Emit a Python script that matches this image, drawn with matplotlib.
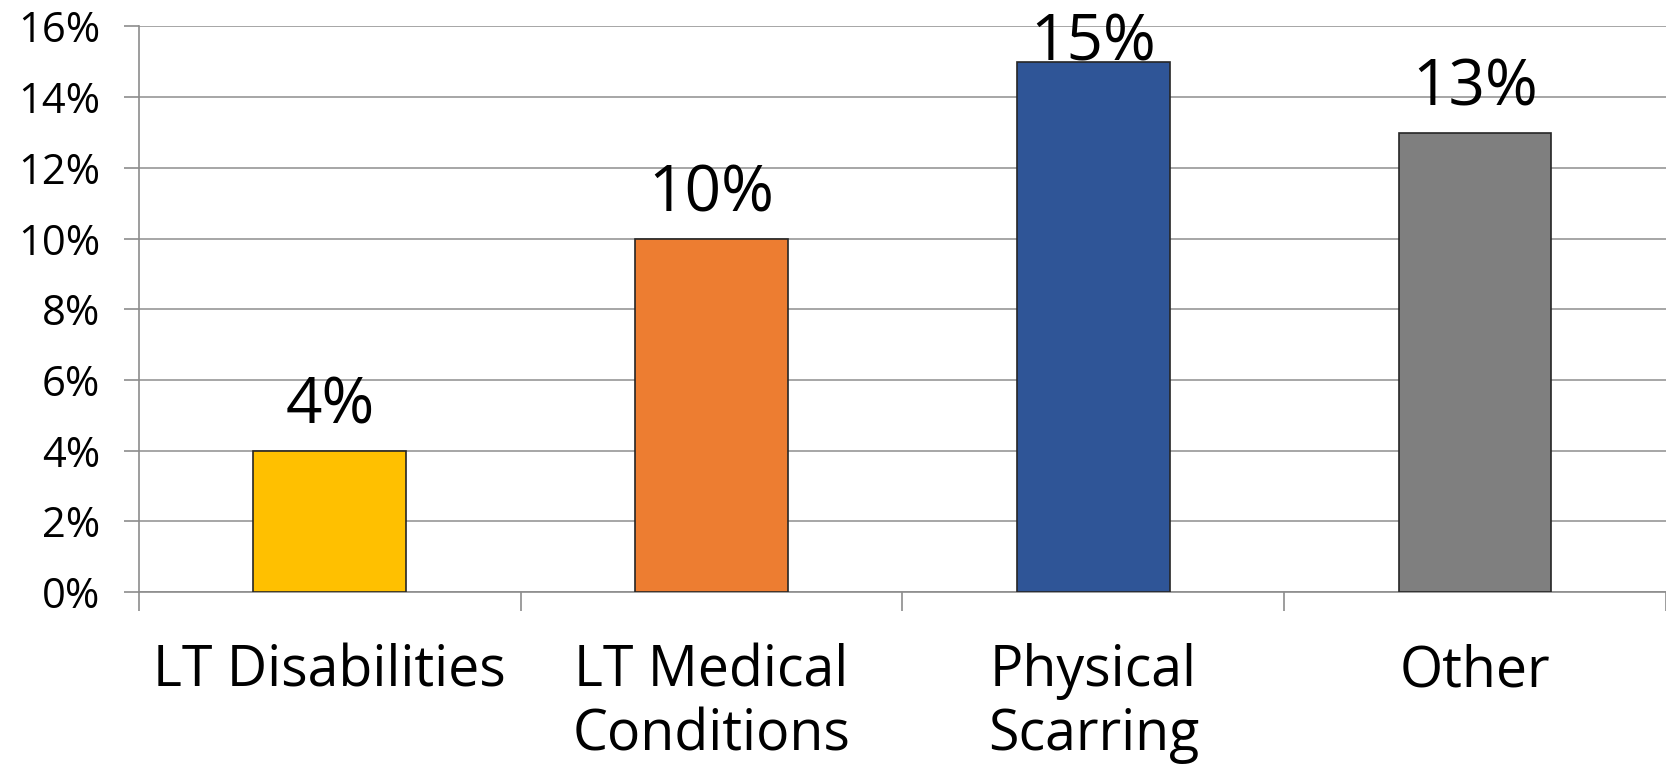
import numpy as np
import matplotlib.pyplot as plt
from matplotlib.ticker import FuncFormatter

# Chart data
categories = ['LT Disabilities', 'LT Medical\nConditions', 'Physical\nScarring', 'Other']
values = [4, 10, 15, 13]
colors = ['#FFC000', '#ED7D31', '#2F5597', '#7F7F7F']
y_ticks = [0, 2, 4, 6, 8, 10, 12, 14, 16]

plt.rcParams['font.family'] = ['Open Sans', 'DejaVu Sans']

fig = plt.figure(figsize=(16.66, 7.68), dpi=100)
ax = fig.add_axes([0.0834, 0.2292, 0.9166, 0.7363])

x = np.arange(len(categories))
ax.bar(x, values, width=0.4, color=colors, edgecolor='#262626', linewidth=1.2, zorder=3)

# value labels above bars (kept inside the plot top like Excel does)
for xi, v in zip(x, values):
    y = min(v + 0.33, 14.6)
    ax.text(xi, y, f'{v}%', ha='center', va='bottom', fontsize=46, color='black', zorder=4)

ax.set_xlim(-0.5, 3.5)
ax.set_ylim(0, 16)

# y axis
ax.set_yticks(y_ticks)
ax.yaxis.set_major_formatter(FuncFormatter(lambda v, p: f'{int(v)}%'))
ax.tick_params(axis='y', direction='out', length=11, width=1.2, color='#8C8C8C',
               labelsize=30, pad=17)
ax.yaxis.grid(True, color='#A6A6A6', linewidth=1.4, zorder=0)

# x axis: tick marks between categories, labels at the centres
ax.set_xticks(np.arange(-0.5, 4.0, 1.0))
ax.set_xticklabels([])
ax.tick_params(axis='x', which='major', direction='out', length=13.5, width=1.2, color='#8C8C8C')
ax.set_xticks(x, minor=True)
ax.set_xticklabels(categories, minor=True, fontsize=40, linespacing=1.16)
ax.tick_params(axis='x', which='minor', length=0, pad=37)

for side in ['top', 'right']:
    ax.spines[side].set_visible(False)
for side in ['left', 'bottom']:
    ax.spines[side].set_color('#8C8C8C')
    ax.spines[side].set_linewidth(1.2)

fig.savefig('out.png', dpi=100)
